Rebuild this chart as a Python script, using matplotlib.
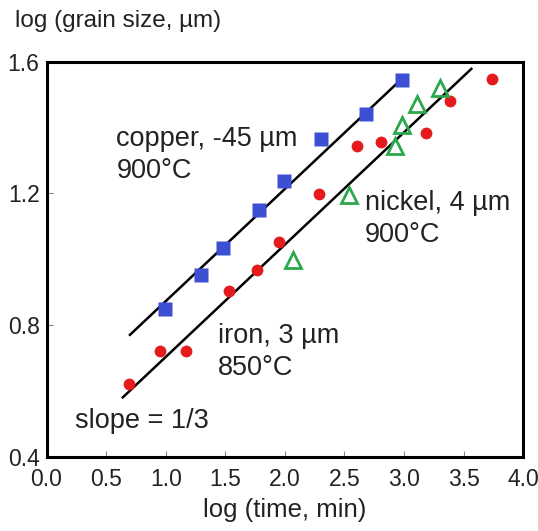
import matplotlib
matplotlib.use("Agg")
import matplotlib.pyplot as plt

plt.rcParams["font.family"] = ["Liberation Sans", "DejaVu Sans"]

# copper, -45 um, 900 C
cu_x = [0.99, 1.30, 1.48, 1.78, 1.99, 2.30, 2.68, 2.98]
cu_y = [0.849, 0.952, 1.033, 1.148, 1.237, 1.365, 1.44, 1.545]

# iron, 3 um, 850 C
fe_x = [0.69, 0.95, 1.17, 1.53, 1.77, 1.95, 2.285, 2.605, 2.81, 3.185, 3.385, 3.74]
fe_y = [0.621, 0.722, 0.722, 0.904, 0.967, 1.052, 1.198, 1.344, 1.357, 1.383, 1.479, 1.548]

# nickel, 4 um, 900 C
ni_x = [2.07, 2.54, 2.92, 2.98, 3.11, 3.30]
ni_y = [0.996, 1.196, 1.345, 1.406, 1.47, 1.52]

# slope = 1/3 fit lines (end points)
cu_fit_x = [0.70, 2.95]
cu_fit_y = [0.77, 1.537]
fe_fit_x = [0.64, 3.565]
fe_fit_y = [0.58, 1.578]

xticks = [0.0, 0.5, 1.0, 1.5, 2.0, 2.5, 3.0, 3.5, 4.0]
yticks = [0.4, 0.8, 1.2, 1.6]

txt = "#222222"

fig = plt.figure(figsize=(5.38, 5.31), dpi=100)
ax = fig.add_axes([0.0865, 0.140, 0.886, 0.744])

ax.plot(cu_fit_x, cu_fit_y, color="black", lw=1.8, zorder=2)
ax.plot(fe_fit_x, fe_fit_y, color="black", lw=1.8, zorder=2)

ax.plot(cu_x, cu_y, "s", color="#3d4fd2", ms=10, mec="none", zorder=3)
ax.plot(fe_x, fe_y, "o", color="#e41a1c", ms=8.5, mec="none", zorder=3)
ax.plot(ni_x, ni_y, "^", mfc="none", mec="#2aa84a", mew=2, ms=11, zorder=3)

# multi-line labels: y is the baseline of the last line
fs = 19.5
ls = 1.3
ax.text(0.586, 1.247, "copper, -45 µm\n900°C", fontsize=fs, va="baseline",
        ha="left", color=txt, linespacing=ls)
ax.text(2.67, 1.053, "nickel, 4 µm\n900°C", fontsize=fs, va="baseline",
        ha="left", color=txt, linespacing=ls)
ax.text(1.435, 0.648, "iron, 3 µm\n850°C", fontsize=fs, va="baseline",
        ha="left", color=txt, linespacing=ls)
ax.text(0.238, 0.487, "slope = 1/3", fontsize=fs, va="baseline", ha="left",
        color=txt)

ax.set_xlim(0, 4)
ax.set_ylim(0.4, 1.6)
ax.set_xticks(xticks)
ax.set_xticklabels([f"{v:.1f}" for v in xticks])
ax.set_yticks(yticks)
ax.set_yticklabels([f"{v:.1f}" for v in yticks])
ax.tick_params(direction="in", length=4, width=0.8, color="#888888",
               labelsize=16.5, labelcolor=txt)
ax.tick_params(axis="x", pad=8)
ax.tick_params(axis="y", pad=5)
for s in ax.spines.values():
    s.set_linewidth(2.2)

fig.text(0.529, 0.026, "log (time, min)", fontsize=18.5, color=txt,
         ha="center", va="baseline")
fig.text(0.028, 0.949, "log (grain size, µm)", fontsize=17.5, color=txt,
         ha="left", va="baseline")

fig.savefig("out.png", dpi=100)
